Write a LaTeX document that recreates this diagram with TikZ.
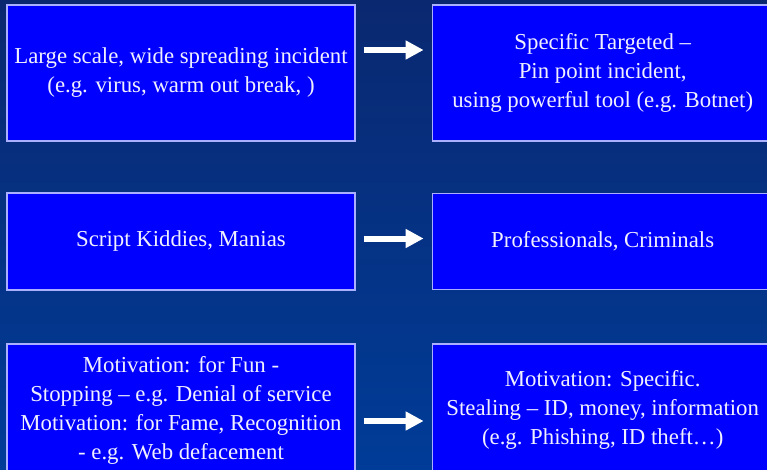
\documentclass[tikz,border=0pt]{standalone}
\usepackage{fontspec}
\setmainfont{Liberation Serif}
\usetikzlibrary{positioning, arrows.meta}
\definecolor{bgtop}{RGB}{10,40,112}
\definecolor{bgbottom}{RGB}{0,60,152}
\definecolor{boxfill}{RGB}{0,0,255}
\definecolor{boxline}{RGB}{170,175,255}
\definecolor{textwhite}{RGB}{240,240,255}

\begin{document}
\begin{tikzpicture}[x=1pt, y=-1pt,
            box/.style={rectangle, draw=boxline, line width=1.2pt, fill=boxfill, text=textwhite, align=center, inner sep=0pt, minimum width=348pt, font=\fontsize{22.8}{29}\selectfont},
            wide/.style={box, minimum width=341pt},
            arrow/.style={-{Triangle[length=18pt, width=18pt]}, line width=6pt, white, shorten <=8pt, shorten >=8pt},
            node distance=76pt
        ]
        \useasboundingbox (0,0) rectangle (767,470);
        \clip (0,0) rectangle (767,470);
        % Background
        \fill[top color=bgtop, bottom color=bgbottom] (0,0) rectangle (767,470);
        % Row 1
        \node[box, minimum height=136pt] at (181,73) (scale) {Large scale, wide spreading incident\\(e.g. virus, warm out break, )};
        \node[wide, minimum height=136pt, right=of scale] (targeted) {Specific Targeted --\\Pin point incident,\\using powerful tool (e.g. Botnet)};
        % Row 2
        \node[box, minimum height=97pt] at (181,241.5) (kiddies) {Script Kiddies, Manias};
        \node[wide, minimum height=96pt, right=of kiddies] (criminals) {Professionals, Criminals};
        % Row 3
        \node[box, minimum height=132pt] at (181,410) (fun) {Motivation: for Fun -\\Stopping -- e.g. Denial of service\\Motivation: for Fame, Recognition\\- e.g. Web defacement};
        \node[wide, minimum height=132pt, right=of fun] (specific) {Motivation: Specific.\\Stealing -- ID, money, information\\(e.g. Phishing, ID theft\dots)};
        % Arrows
        \draw[arrow] ([yshift=23pt]scale.east) -- ([yshift=23pt]targeted.west);
        \draw[arrow] ([yshift=3pt]kiddies.east) -- ([yshift=3pt]criminals.west);
        \draw[arrow] ([yshift=-11pt]fun.east) -- ([yshift=-11pt]specific.west);
    \end{tikzpicture}
\end{document}
